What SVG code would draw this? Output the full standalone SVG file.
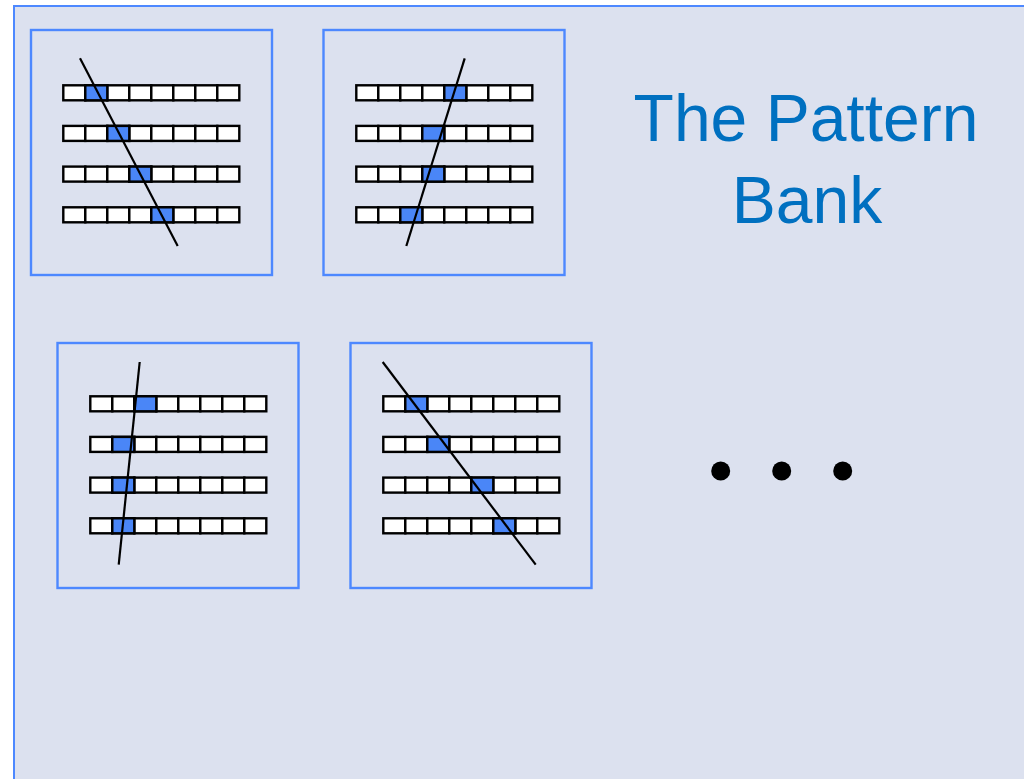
<svg xmlns="http://www.w3.org/2000/svg" width="1024" height="779" viewBox="0 0 1024 779">
<style>
.bg{fill:#dce1ef;stroke:#4d88ff;stroke-width:2}
.box{fill:#dce1ef;stroke:#4d88ff;stroke-width:2.4}
.cell{fill:#ffffff;stroke:#000;stroke-width:2.4}
.hi{fill:#4a86f7;stroke:#000;stroke-width:2.4}
.ln{stroke:#000;stroke-width:2.2;fill:none}
.title{font-family:"Liberation Sans",Arial,sans-serif;font-size:66px;fill:#0070c0;text-anchor:middle}
</style>
<defs>
<g id="row">
<rect class="cell" x="0" y="0" width="22" height="15"/>
<rect class="cell" x="22" y="0" width="22" height="15"/>
<rect class="cell" x="44" y="0" width="22" height="15"/>
<rect class="cell" x="66" y="0" width="22" height="15"/>
<rect class="cell" x="88" y="0" width="22" height="15"/>
<rect class="cell" x="110" y="0" width="22" height="15"/>
<rect class="cell" x="132" y="0" width="22" height="15"/>
<rect class="cell" x="154" y="0" width="22" height="15"/>
</g>
<g id="grid">
<use href="#row" y="0"/>
<use href="#row" y="40.6"/>
<use href="#row" y="81.3"/>
<use href="#row" y="122"/>
</g>
</defs>
<rect class="bg" x="14" y="6" width="1030" height="800"/>

<g id="pattern1">
<rect class="box" x="31" y="30" width="241" height="245"/>
<g transform="translate(63.3,85.3)">
<use href="#grid"/>
<rect class="hi" x="22" y="0" width="22" height="15"/>
<rect class="hi" x="44" y="40.6" width="22" height="15"/>
<rect class="hi" x="66" y="81.3" width="22" height="15"/>
<rect class="hi" x="88" y="122" width="22" height="15"/>
</g>
<line class="ln" x1="80" y1="58.3" x2="177.7" y2="246"/>
</g>

<g id="pattern2">
<rect class="box" x="323.5" y="30" width="241" height="245"/>
<g transform="translate(356.3,85.3)">
<use href="#grid"/>
<rect class="hi" x="88" y="0" width="22" height="15"/>
<rect class="hi" x="66" y="40.6" width="22" height="15"/>
<rect class="hi" x="66" y="81.3" width="22" height="15"/>
<rect class="hi" x="44" y="122" width="22" height="15"/>
</g>
<line class="ln" x1="464.7" y1="58.3" x2="406.3" y2="246"/>
</g>

<g id="pattern3">
<rect class="box" x="57.5" y="343" width="241" height="245"/>
<g transform="translate(90.3,396.3)">
<use href="#grid"/>
<rect class="hi" x="44" y="0" width="22" height="15"/>
<rect class="hi" x="22" y="40.6" width="22" height="15"/>
<rect class="hi" x="22" y="81.3" width="22" height="15"/>
<rect class="hi" x="22" y="122" width="22" height="15"/>
</g>
<line class="ln" x1="139.7" y1="362" x2="118.7" y2="564.7"/>
</g>

<g id="pattern4">
<rect class="box" x="350.5" y="343" width="241" height="245"/>
<g transform="translate(383.3,396.3)">
<use href="#grid"/>
<rect class="hi" x="22" y="0" width="22" height="15"/>
<rect class="hi" x="44" y="40.6" width="22" height="15"/>
<rect class="hi" x="88" y="81.3" width="22" height="15"/>
<rect class="hi" x="110" y="122" width="22" height="15"/>
</g>
<line class="ln" x1="382.7" y1="362" x2="535.7" y2="564.7"/>
</g>

<g id="title">
<text class="title" x="806" y="141">The Pattern</text>
<text class="title" x="807" y="223">Bank</text>
</g>

<g id="ellipsis">
<circle cx="720.7" cy="471" r="9.5" fill="#000"/>
<circle cx="781.7" cy="471" r="9.5" fill="#000"/>
<circle cx="842.7" cy="471" r="9.5" fill="#000"/>
</g>
</svg>
